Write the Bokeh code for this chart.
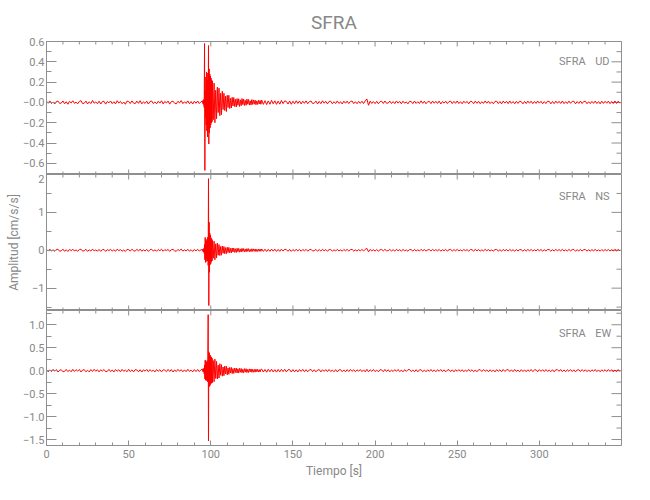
import numpy as np
from bokeh.plotting import figure
from bokeh.layouts import column
from bokeh.models import Range1d, FixedTicker, LinearAxis, Label
from bokeh.embed import file_html
from bokeh.resources import INLINE

station = "SFRA"
components = ["UD", "NS", "EW"]
x_label = "Tiempo [s]"
y_label = "Amplitud [cm/s/s]"

seg_start = [0.0, 95.0, 101.0, 131.0]
seg_step = [1.0, 0.2, 0.5, 1.0]

# ---------------- UD [cm/s/s] ----------------
ud_a = [.012, -.008, .015, -.011, .004, -.016, .009, .013, -.010, -.006,
        .014, -.013, .007, -.018, .011, -.005, .016, -.009, .003, -.014,
        .010, .017, -.012, -.007, .013, -.015, .006, -.011, .019, -.008,
        .005, -.013, .012, -.016, .008, .011, -.017, .009, -.004, .014,
        -.012, .007, -.015, .016, -.006, .010, -.013, .004, -.018, .012,
        .009, -.011, .015, -.007, -.012, .013, -.009, .017, -.014, .006,
        -.010, .012, -.016, .008, .014, -.011, .005, -.013, .011, -.007,
        .016, -.015, .010, -.006, .013, -.017, .008, .012, -.009, -.014,
        .011, -.005, .018, -.012, .007, -.010, .015, -.013, .009, -.016,
        .012, -.008, .014, -.011, .006]
ud_b = [.015, -.012, .018, -.020, .030, -.050, .58, -.67, .12, -.15,
        .25, -.22, .30, -.28, .29, -.34, .22, -.26, .56, -.41,
        .33, -.30, .28, -.25, .26, -.22, .24, -.20, .22, -.19]
ud_c = [.21, -.17, .19, -.20, .12, -.16, .15, -.10, .14, -.13,
        .09, -.12, .11, -.07, .09, -.08, .06, -.09, .07, -.05,
        .07, -.06, .04, -.055, .05, -.035, .048, -.04, .03, -.045,
        .038, -.028, .036, -.04, .025, -.032, .038, -.022, .033, -.03,
        .02, -.028, .032, -.018, .029, -.026, .016, -.025, .028, -.02,
        .024, -.017, .022, -.023, .015, -.02, .021, -.016, .019, -.018]
ud_d = [.022, -.019, .017, -.021, .015, -.018, .020, -.014, .016, -.019,
        .013, -.017, .019, -.012, .015, .010, -.016, .014, -.018, .011,
        -.013, .016, -.010, .014, -.015, .012, -.009, .015, -.013, .008,
        .014, -.011, -.007, .013, -.015, .010, -.012, .016, -.008, .011,
        -.014, .009, .012, -.013, .007, -.011, .014, -.010, .006, -.015,
        .012, -.008, .013, -.011, .009, .014, -.012, .007, -.013, .010,
        -.009, .012, -.011, .015, .034, -.028, .013, -.010, .008, -.012,
        .011, -.013, .007, .012, -.010, .014, -.009, -.006, .013, -.011,
        .008, -.012, .014, -.007, .010, -.013, .012, -.008, .005, -.014,
        .011, .009, -.012, .013, -.010, .007, -.011, .015, -.009, .012,
        -.013, .006, .010, -.012, .014, -.008, .011, -.010, .013, -.015,
        .009, -.007, .012, -.011, .008, .013, -.012, .010, -.009, .014,
        -.011, .007, -.013, .012, -.006, .010, -.014, .011, .008, -.012,
        .013, -.009, .011, -.013, .007, -.010, .014, -.008, .012, -.011,
        .006, -.013, .010, .012, -.011, .009, -.014, .013, -.007, .011,
        -.012, .014, -.009, .008, -.013, .011, -.010, .012, .007, -.014,
        .010, -.011, .013, -.008, .012, -.012, .009, -.010, .014, -.007,
        .011, -.013, .008, -.011, .012, .010, -.014, .009, -.012, .013,
        -.008, .011, -.010, .014, -.012, .007, -.011, .013, -.009, .010,
        .012, -.014, .008, -.010, .013, -.011, .009, .011, -.013, .007,
        -.012, .010, -.009, .013, -.011, .008, -.014, .012, -.010, .011,
        -.008, .013, -.012, .009, -.011, .014, -.010, .012, -.009]

# ---------------- NS [cm/s/s] ----------------
ns_a = [.025, -.018, .030, -.022, .012, -.028, .020, .027, -.024, -.015,
        .029, -.026, .014, -.031, .022, -.010, .027, -.019, .008, -.025,
        .018, .028, -.023, -.013, .026, -.029, .011, -.020, .031, -.016,
        .009, -.024, .022, -.028, .015, .021, -.030, .017, -.008, .026,
        -.022, .013, -.027, .029, -.011, .019, -.025, .007, -.031, .023,
        .016, -.020, .028, -.014, -.023, .025, -.017, .030, -.026, .012,
        -.019, .023, -.029, .015, .026, -.021, .010, -.024, .020, -.013,
        .029, -.027, .018, -.011, .024, -.030, .015, .022, -.017, -.026,
        .021, -.009, .031, -.023, .013, -.019, .027, -.024, .016, -.029,
        .022, -.015, .026, -.020, .011]
ns_b = [.02, -.03, .03, -.04, .05, -.08, .15, -.25, .34, -.32,
        .28, -.30, .25, -.22, .30, -.28, .35, -.40, 1.89, -1.46,
        .74, -.58, .45, -.38, .40, -.35, .33, -.30, .30, -.28]
ns_c = [.26, -.21, .24, -.25, .17, -.20, .19, -.13, .15, -.14,
        .10, -.13, .11, -.08, .10, -.09, .07, -.09, .08, -.06,
        .075, -.065, .05, -.07, .06, -.045, .058, -.055, .04, -.06,
        .052, -.038, .05, -.05, .035, -.046, .05, -.03, .045, -.042,
        .03, -.04, .044, -.028, .042, -.038, .025, -.036, .04, -.03,
        .036, -.026, .034, -.035, .024, -.032, .033, -.025, .03, -.028]
ns_d = [.034, -.030, .027, -.033, .025, -.029, .031, -.024, .028, -.030,
        .023, -.028, .030, -.021, .026, .018, -.027, .024, -.029, .019,
        -.022, .027, -.017, .024, -.025, .021, -.016, .025, -.023, .014,
        .024, -.019, -.012, .022, -.025, .017, -.021, .026, -.014, .019,
        -.024, .015, .021, -.022, .012, -.019, .024, -.017, .010, -.025,
        .020, -.014, .022, -.019, .016, .023, -.020, .012, -.022, .017,
        -.015, .021, -.019, .025, .050, -.040, .022, -.017, .014, -.021,
        .019, -.022, .012, .020, -.017, .024, -.015, -.010, .022, -.019,
        .014, -.020, .023, -.012, .017, -.022, .020, -.014, .009, -.024,
        .019, .015, -.021, .022, -.017, .012, -.019, .025, -.015, .020,
        -.022, .010, .017, -.020, .024, -.013, .019, -.017, .022, -.025,
        .015, -.012, .021, -.019, .014, .022, -.020, .017, -.015, .024,
        -.019, .012, -.022, .020, -.010, .017, -.024, .019, .014, -.020,
        .022, -.015, .019, -.022, .012, -.017, .024, -.014, .020, -.019,
        .010, -.022, .017, .020, -.019, .015, -.024, .022, -.012, .019,
        -.020, .024, -.015, .014, -.022, .019, -.017, .020, .012, -.024,
        .017, -.019, .022, -.014, .020, -.020, .015, -.017, .024, -.012,
        .019, -.022, .014, -.019, .020, .017, -.024, .015, -.020, .022,
        -.014, .019, -.017, .024, -.020, .012, -.019, .022, -.015, .017,
        .020, -.024, .014, -.017, .022, -.019, .015, .019, -.022, .012,
        -.020, .017, -.015, .022, -.019, .014, -.024, .020, -.017, .019,
        -.014, .022, -.020, .015, -.019, .024, -.017, .020, -.015]

# ---------------- EW [cm/s/s] ----------------
ew_a = [.021, -.026, .017, -.022, .028, -.013, .024, -.029, .010, .019,
        -.023, -.016, .027, -.020, .012, -.025, .029, -.018, .022, -.011,
        .026, -.028, .015, .021, -.024, .009, -.027, .023, -.017, .030,
        -.014, .020, -.026, .018, -.010, .025, -.022, -.016, .028, -.021,
        .013, -.029, .024, -.012, .019, -.025, .027, -.015, .011, -.023,
        .029, -.019, .016, -.027, .022, .014, -.024, .020, -.030, .017,
        -.011, .026, -.021, .023, -.016, .010, -.028, .025, -.013, .021,
        -.026, .018, .012, -.022, .027, -.017, .024, -.029, .015, -.020,
        .028, -.012, .021, -.025, .017, -.023, .030, -.016, .011, -.027,
        .023, -.019, .026, -.021, .018]
ew_b = [.03, -.02, .04, -.03, .05, -.07, .12, -.18, .23, -.20,
        .20, -.22, .18, -.19, .22, -.24, .30, 1.22, -1.53, .41,
        -.35, .38, -.33, .34, -.30, .31, -.28, .29, -.26, .27]
ew_c = [-.26, .22, -.24, .25, -.17, .20, -.18, .12, -.16, .15,
        -.10, .13, -.12, .08, -.11, .10, -.07, .095, -.09, .06,
        -.08, .07, -.05, .07, -.065, .045, -.06, .055, -.04, .058,
        -.05, .04, -.052, .05, -.035, .048, -.045, .03, -.046, .044,
        -.032, .042, -.04, .028, -.04, .038, -.026, .037, -.035, .03,
        -.034, .027, -.033, .032, -.024, .03, -.031, .022, -.029, .027]
ew_d = [.033, -.029, .026, -.034, .030, -.024, .031, -.028, .022, -.032,
        .027, -.025, .029, -.021, .030, -.027, .018, .024, -.029, .023,
        -.026, .020, -.028, .025, -.017, .027, -.023, .021, -.025, .016,
        .026, -.022, .019, -.026, .013, .023, -.027, .020, -.016, .024,
        -.021, .025, -.018, .012, -.024, .022, -.026, .017, .021, -.023,
        .015, -.025, .022, -.019, .026, -.014, .020, -.024, .018, -.012,
        .024, -.021, .017, -.026, .028, -.023, .019, -.015, .025, -.020,
        .013, -.024, .021, .016, -.022, .026, -.017, .020, -.025, .014,
        -.019, .023, -.015, .025, -.021, .012, -.026, .022, -.017, .020,
        .024, -.018, .014, -.023, .021, -.025, .017, .019, -.022, .013,
        -.024, .020, -.016, .026, -.019, .015, -.023, .021, -.014, .025,
        -.020, .017, -.025, .012, .022, -.021, .018, -.026, .020, -.015,
        .023, -.017, .021, -.024, .014, -.019, .026, -.016, .020, -.022,
        .013, -.025, .019, .021, -.018, .024, -.015, .017, -.023, .020,
        -.021, .016, -.026, .022, -.013, .019, -.024, .025, -.017, .014,
        .024, -.020, .018, -.022, .026, -.015, .013, -.025, .021, -.019,
        .017, -.023, .020, -.016, .025, -.021, .014, .019, -.024, .022,
        -.015, .021, -.019, .024, -.017, .012, -.022, .020, -.026, .018,
        .022, -.014, .025, -.021, .016, -.024, .019, -.013, .023, -.020,
        .018, -.025, .014, .021, -.019, .023, -.016, .020, -.022, .017,
        -.023, .019, -.014, .025, -.021, .016, -.024, .018, -.012, .022,
        -.019, .024, -.016, .021, -.025, .013, -.020, .023, -.018]

# axis ranges and ticks
x_range = (0, 350)
x_ticks = [0, 50, 100, 150, 200, 250, 300]
x_minor = [v for v in range(10, 350, 10) if v % 50]

ud_range = (-0.71, 0.60)
ud_ticks = [-0.6, -0.4, -0.2, 0.0, 0.2, 0.4, 0.6]
ud_minor = [-0.7, -0.5, -0.3, -0.1, 0.1, 0.3, 0.5]
ud_labels = ["−0.6", "−0.4", "−0.2", "−0.0", "0.2", "0.4", "0.6"]

ns_range = (-1.59, 2.0)
ns_ticks = [-1.0, 0.0, 1.0, 2.0]
ns_minor = [-1.5, -0.5, 0.5, 1.5]
ns_labels = ["−1", "0", "1", "2"]

ew_range = (-1.63, 1.31)
ew_ticks = [-1.5, -1.0, -0.5, 0.0, 0.5, 1.0]
ew_minor = [-1.25, -0.75, -0.25, 0.25, 0.75, 1.25]
ew_labels = ["−1.5", "−1.0", "−0.5", "0.0", "0.5", "1.0"]

# component label anchors (data units of each panel)
tag_x = [312, 334]
tag_y = [0.40, 1.41, 0.81]

# ---------------------------------------------------------------------------
FONT = "Roboto"
AX = "#8f8f8f"
TXT = "#888888"
TRACE = "#ff0000"
UP, DOWN, LEFT = np.pi / 2, -np.pi / 2, np.pi


def seg_times(parts):
    t = []
    for s0, dt, vals in zip(seg_start, seg_step, parts):
        t.extend(s0 + dt * np.arange(len(vals)))
    return np.array(t)


def ticks_as_rays(p, xs, ys, angle, length):
    p.ray(x=xs, y=ys, length=length, angle=angle, length_units="screen",
          line_color=AX, line_width=1)


def make_panel(yr, yticks, yminor, ylabels, frame_h, top, bottom, comp, comp_y,
               parts, bottom_ticks=True):
    p = figure(frame_width=575, frame_height=frame_h,
               x_range=Range1d(*x_range), y_range=Range1d(*yr),
               x_axis_location=None, y_axis_location=None,
               output_backend="svg", toolbar_location=None,
               min_border_left=46, min_border_right=13,
               min_border_top=top, min_border_bottom=bottom)
    p.grid.visible = False
    p.outline_line_color = AX
    p.background_fill_color = "white"
    p.border_fill_color = "white"

    ax = LinearAxis(ticker=FixedTicker(ticks=yticks, minor_ticks=yminor))
    ax.major_tick_in, ax.major_tick_out = 10, 0
    ax.minor_tick_in, ax.minor_tick_out = 5, 0
    ax.axis_line_color = AX
    ax.major_tick_line_color = AX
    ax.minor_tick_line_color = AX
    ax.major_label_overrides = {float(k): v for k, v in zip(yticks, ylabels)}
    ax.major_label_text_font = FONT
    ax.major_label_text_font_size = "11px"
    ax.major_label_text_color = TXT
    ax.major_label_standoff = 2
    p.add_layout(ax, "left")

    # mirrored ticks: right side, top, and bottom of the panel
    ticks_as_rays(p, [x_range[1]] * len(yticks), yticks, LEFT, 10)
    ticks_as_rays(p, [x_range[1]] * len(yminor), yminor, LEFT, 5)
    ticks_as_rays(p, x_ticks, [yr[1]] * len(x_ticks), DOWN, 5)
    ticks_as_rays(p, x_minor, [yr[1]] * len(x_minor), DOWN, 3)
    if bottom_ticks:
        ticks_as_rays(p, x_ticks, [yr[0]] * len(x_ticks), UP, 5)
        ticks_as_rays(p, x_minor, [yr[0]] * len(x_minor), UP, 3)

    t = seg_times(parts)
    y = np.concatenate([np.array(v) for v in parts])
    p.line(t, y, line_color=TRACE, line_width=1)

    for tx, txt in zip(tag_x, [station, comp]):
        p.add_layout(Label(x=tx, y=comp_y, text=txt,
                           text_font=FONT, text_font_size="11px", text_color=TXT,
                           text_baseline="middle", text_align="left"))
    return p, ax


p1, _ = make_panel(ud_range, ud_ticks, ud_minor, ud_labels, 133, 41, 0,
                   components[0], tag_y[0], [ud_a, ud_b, ud_c, ud_d])
p1.title.text = station
p1.title.align = "center"
p1.title.text_font = FONT
p1.title.text_font_size = "19px"
p1.title.text_font_style = "normal"
p1.title.text_color = TXT
p1.title.standoff = 15
# upper half of the panel-2 top tick label "2" that reaches into this panel
p1.add_layout(Label(x=0, y=ud_range[0], text=ns_labels[-1], x_offset=-2,
                    text_font=FONT, text_font_size="11px", text_color=TXT,
                    text_align="right", text_baseline="middle"))

p2, yax2 = make_panel(ns_range, ns_ticks, ns_minor, ns_labels, 136, 0, 0,
                      components[1], tag_y[1], [ns_a, ns_b, ns_c, ns_d])
yax2.axis_label = y_label
yax2.axis_label_text_font = FONT
yax2.axis_label_text_font_size = "12px"
yax2.axis_label_text_font_style = "normal"
yax2.axis_label_text_color = TXT
yax2.axis_label_standoff = 8

p3, _ = make_panel(ew_range, ew_ticks, ew_minor, ew_labels, 135, 0, 47,
                   components[2], tag_y[2], [ew_a, ew_b, ew_c, ew_d],
                   bottom_ticks=False)
xax = LinearAxis(ticker=FixedTicker(ticks=x_ticks, minor_ticks=x_minor))
xax.major_tick_in, xax.major_tick_out = 5, 0
xax.minor_tick_in, xax.minor_tick_out = 3, 0
xax.axis_line_color = AX
xax.major_tick_line_color = AX
xax.minor_tick_line_color = AX
xax.major_label_text_font = FONT
xax.major_label_text_font_size = "11px"
xax.major_label_text_color = TXT
xax.major_label_standoff = 4
xax.axis_label = x_label
xax.axis_label_text_font = FONT
xax.axis_label_text_font_size = "12px"
xax.axis_label_text_font_style = "normal"
xax.axis_label_text_color = TXT
xax.axis_label_standoff = 3
p3.add_layout(xax, "below")

layout = column(p1, p2, p3, spacing=0)
open("out.html", "w").write(file_html(layout, INLINE))
